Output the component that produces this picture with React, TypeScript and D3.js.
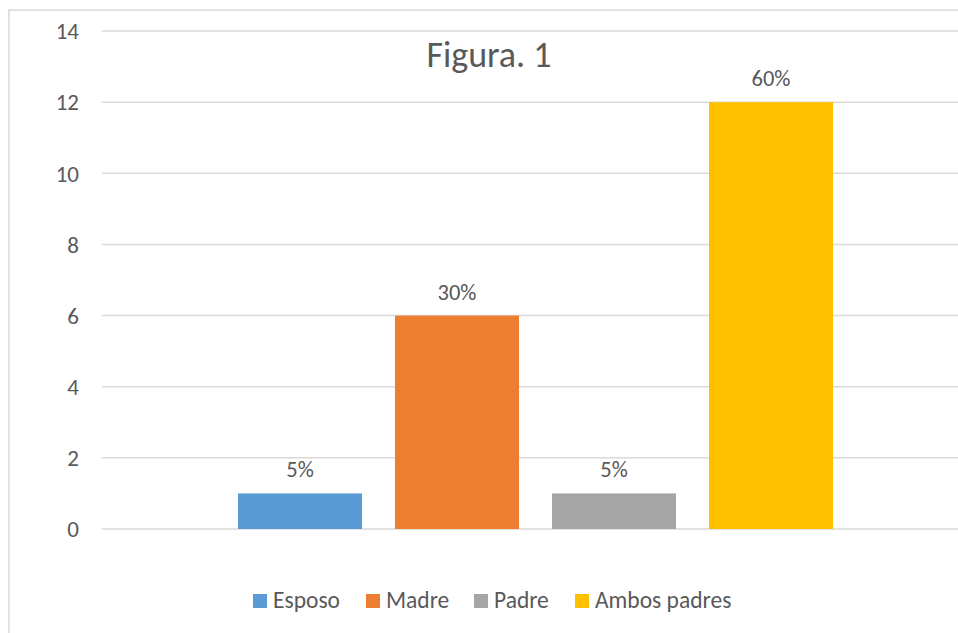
import React from "react";
import * as d3 from "d3";

const categories = ["Esposo", "Madre", "Padre", "Ambos padres"];
const values = [1, 6, 1, 12];
const percentLabels = ["5%", "30%", "5%", "60%"];
const colors = ["#5B9BD5", "#ED7D31", "#A5A5A5", "#FFC000"];
const yTicks = [0, 2, 4, 6, 8, 10, 12, 14];
const title = "Figura. 1";

const W = 958;
const H = 633;
const FONT = "Carlito, Calibri, Lato, 'Open Sans', sans-serif";
const TEXT = "#595959";

export default function App() {
  const y = d3.scaleLinear().domain([0, 14]).range([529, 31]);
  const x = d3
    .scaleBand<string>()
    .domain(categories)
    .range([102, 969])
    .paddingInner(0.21)
    .paddingOuter(0.866);

  // legend swatch positions
  const legendX = [253, 366, 474, 575];

  return (
    <div style={{ position: "fixed", left: 0, top: 0 }}>
      <svg width={W} height={H} style={{ display: "block", background: "#fff" }} fontFamily={FONT}>
        <rect x={9} y={10} width={W + 20} height={H + 20} fill="#fff" stroke="#d9d9d9" strokeWidth={1.5} />
        {yTicks.map((t) => (
          <g key={t}>
            <line x1={102} x2={W + 5} y1={y(t)} y2={y(t)} stroke="#d9d9d9" strokeWidth={1.5} />
            <text x={79} y={y(t)} dy="0.36em" textAnchor="end" fontSize={23} fill={TEXT}>
              {t}
            </text>
          </g>
        ))}
        {categories.map((c, i) => (
          <g key={c}>
            <rect x={x(c)} y={y(values[i])} width={x.bandwidth()} height={y(0) - y(values[i])} fill={colors[i]} />
            <text
              x={(x(c) as number) + x.bandwidth() / 2}
              y={y(values[i]) - 16}
              textAnchor="middle"
              fontSize={22.5}
              fill={TEXT}
            >
              {percentLabels[i]}
            </text>
          </g>
        ))}
        <text x={489} y={67} textAnchor="middle" fontSize={36} fill={TEXT}>
          {title}
        </text>
        {categories.map((c, i) => (
          <g key={"lg" + c}>
            <rect x={legendX[i]} y={594} width={14} height={14} fill={colors[i]} />
            <text x={legendX[i] + 20} y={608} fontSize={23.5} fill={TEXT}>
              {c}
            </text>
          </g>
        ))}
      </svg>
    </div>
  );
}
